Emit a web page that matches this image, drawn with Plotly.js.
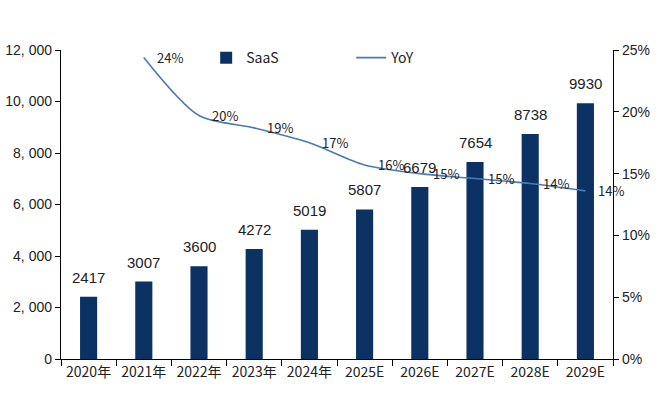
<!DOCTYPE html>
<html><head><meta charset="utf-8">
<script src="https://cdn.plot.ly/plotly-3.0.1.min.js"></script>
<style>html,body{margin:0;padding:0;background:#fff}#chart{width:667px;height:396px}</style>
</head><body><div id="chart"></div>
<script>
const categories = ["2020年","2021年","2022年","2023年","2024年","2025E","2026E","2027E","2028E","2029E"];
const saas = [2417,3007,3600,4272,5019,5807,6679,7654,8738,9930];
const yoyCats = ["2021年","2022年","2023年","2024年","2025E","2026E","2027E","2028E","2029E"];
const yoy = [0.244,0.197,0.187,0.175,0.157,0.150,0.146,0.142,0.136];
const yoyLabels = ["24%","20%","19%","17%","16%","15%","15%","14%","14%"];
const leftTickVals = [0,2000,4000,6000,8000,10000,12000];
const leftTickText = ["0","2, 000","4, 000","6, 000","8, 000","10, 000","12, 000"];

const barColor = "#0b3263";
const lineColor = "#4a7ab5";

const traces = [
  {type:"bar", name:"SaaS", x:categories, y:saas, marker:{color:barColor}, width:0.31, hoverinfo:"skip"},
  {type:"scatter", mode:"lines", name:"YoY", x:yoyCats, y:yoy, yaxis:"y2",
   line:{color:lineColor, width:1.6, shape:"spline", smoothing:0.8}, hoverinfo:"skip"}
];

const annotations = [];
categories.forEach((c,i)=>{
  annotations.push({x:c, y:saas[i], xref:"x", yref:"y", text:String(saas[i]), showarrow:false,
    yanchor:"bottom", yshift:9, font:{family:"Liberation Sans, Arial", size:15, color:"#222"}});
});
yoyCats.forEach((c,i)=>{
  annotations.push({x:c, y:yoy[i], xref:"x", yref:"y2", text:yoyLabels[i], showarrow:false,
    xanchor:"center", yanchor:"middle", xshift:26, font:{family:"Noto Sans CJK SC, sans-serif", size:13, color:"#222"}});
});

const layout = {
  width:667, height:396,
  margin:{l:61, r:54, t:50, b:37},
  paper_bgcolor:"#fff", plot_bgcolor:"#fff",
  showlegend:true,
  legend:{orientation:"h", x:0.263, y:0.974, xanchor:"left", yanchor:"middle",
    font:{family:"Noto Sans CJK SC, sans-serif", size:14, color:"#222"},
    entrywidth:100, entrywidthmode:"pixels", bgcolor:"rgba(0,0,0,0)"},
  xaxis:{type:"category", range:[-0.5,9.5], showline:true, linecolor:"#000", linewidth:1.2,
    ticks:"outside", tickson:"boundaries", ticklen:6, tickcolor:"#000",
    tickfont:{family:"Noto Sans CJK SC, sans-serif", size:14, color:"#222"}, showgrid:false, zeroline:false, fixedrange:true},
  yaxis:{range:[0,12000], tickvals:leftTickVals, ticktext:leftTickText, showline:true, linecolor:"#000", linewidth:1.2,
    ticks:"outside", ticklen:5, tickcolor:"#000", showgrid:false, zeroline:false,
    tickfont:{family:"Liberation Sans, Arial", size:14, color:"#222"}},
  yaxis2:{overlaying:"y", side:"right", range:[0,0.25], dtick:0.05, tickformat:".0%", showline:true, linecolor:"#000", linewidth:1.2,
    ticks:"outside", ticklen:5, tickcolor:"#000", showgrid:false, zeroline:false,
    tickfont:{family:"Liberation Sans, Arial", size:14, color:"#222"}},
  annotations:annotations
};
Plotly.newPlot("chart", traces, layout, {displayModeBar:false, staticPlot:true});
</script></body></html>
